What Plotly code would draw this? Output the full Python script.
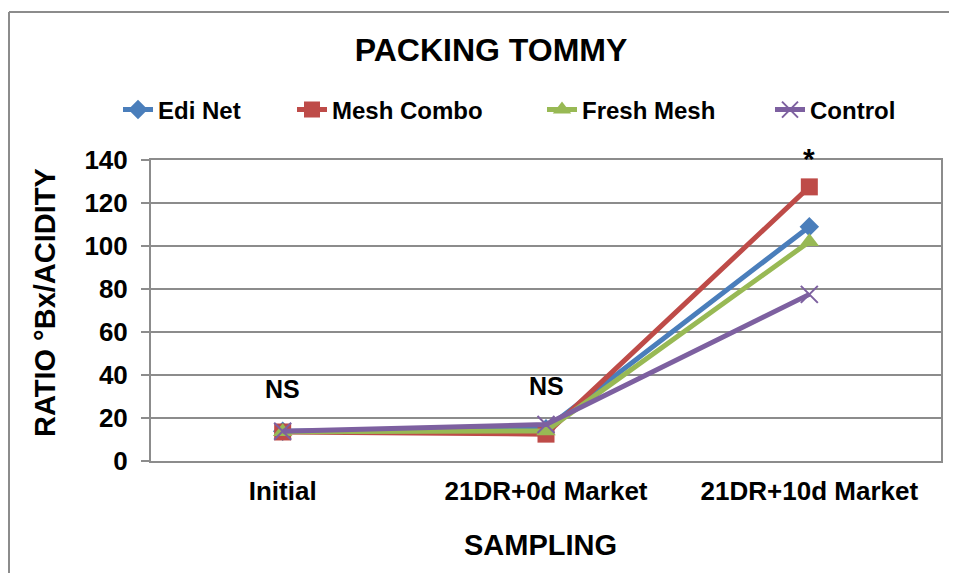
import plotly.graph_objects as go

categories = ["Initial", "21DR+0d Market", "21DR+10d Market"]
edi_net = [13.8, 15.0, 109.0]
mesh_combo = [13.5, 12.5, 127.5]
fresh_mesh = [13.6, 14.0, 102.0]
control = [13.8, 17.0, 77.5]
y_ticks = [0, 20, 40, 60, 80, 100, 120, 140]

series = [
    ("Edi Net", edi_net, "#4A7EBB", "diamond", 15),
    ("Mesh Combo", mesh_combo, "#BE4B48", "square", 17),
    ("Fresh Mesh", fresh_mesh, "#98B954", "triangle-up", 17),
    ("Control", control, "#7D60A0", "x-thin-open", 17),
]

# page offset (body margin) compensation
OX, OY = 8, 8
W, H = 957 - OX, 573 - OY
L, R, T, B = 151 - OX, W - (941 - OX), 160 - OY, H - (461 - OY)
pw, ph = W - L - R, H - T - B

def px(xp):
    return (xp - OX - L) / pw

def py(yp):
    return (H - B - (yp - OY)) / ph

FONT = "Liberation Sans, Arial, sans-serif"

fig = go.Figure()
legend_text_x = [159, 333, 583, 811]
for i, (name, vals, col, sym, sz) in enumerate(series):
    lg = "legend" if i == 0 else f"legend{i+1}"
    mk = dict(symbol=sym, size=sz, color=col)
    if sym == "x-thin-open":
        mk["line"] = dict(color=col, width=2)
    else:
        mk["line"] = dict(color=col, width=0)
    fig.add_trace(go.Scatter(
        x=categories, y=vals, name=name, mode="lines+markers",
        line=dict(color=col, width=5), marker=mk, legend=lg,
        cliponaxis=False,
    ))

legend_common = dict(
    orientation="h", yanchor="middle", xanchor="left",
    font=dict(family=FONT, size=24, color="black", weight="bold"),
    bgcolor="rgba(0,0,0,0)", borderwidth=0,
)
layout_leg = {}
for i, tx in enumerate(legend_text_x):
    key = "legend" if i == 0 else f"legend{i+1}"
    layout_leg[key] = dict(legend_common, x=px(tx - 41), y=py(110))

fig.update_layout(
    width=W, height=H,
    margin=dict(l=L, r=R, t=T, b=B, autoexpand=False),
    paper_bgcolor="white", plot_bgcolor="white",
    font=dict(family=FONT, color="black"),
    title=dict(text="PACKING TOMMY", x=px(491), xref="paper", xanchor="center",
               y=1 - (50 - OY) / H, yref="container", yanchor="middle",
               font=dict(family=FONT, size=32, color="black", weight="bold")),
    xaxis=dict(
        type="category", categoryorder="array", categoryarray=categories,
        range=[-0.5, 2.5], automargin=False,
        showline=True, linecolor="#8c8c8c", linewidth=2, mirror=True,
        showgrid=False, ticks="", ticklabelstandoff=6,
        tickfont=dict(family=FONT, size=26, color="black", weight="bold"),
    ),
    yaxis=dict(
        range=[0, 140], tickvals=y_ticks, automargin=False,
        showline=True, linecolor="#8c8c8c", linewidth=2, mirror=True,
        showgrid=True, gridcolor="#8c8c8c", gridwidth=2,
        ticks="outside", ticklen=8, tickwidth=2, tickcolor="#8c8c8c",
        ticklabelstandoff=8,
        tickfont=dict(family=FONT, size=26, color="black", weight="bold"),
        zeroline=False,
    ),
    showlegend=True,
    **layout_leg,
)

# outer chart frame: left and top edges only (the rest lies outside the view)
frame = dict(color="#8c8c8c", width=2)
fig.add_shape(type="line", xref="paper", yref="paper",
              x0=px(9), x1=px(9), y0=py(573), y1=py(12), line=frame, layer="below")
fig.add_shape(type="line", xref="paper", yref="paper",
              x0=px(9), x1=px(957), y0=py(12), y1=py(12), line=frame, layer="below")

# axis titles
fig.add_annotation(text="SAMPLING", xref="paper", yref="paper",
                   x=px(540), y=py(545), xanchor="center", yanchor="middle", showarrow=False,
                   font=dict(family=FONT, size=29, color="black", weight="bold"))
fig.add_annotation(text="RATIO °Bx/ACIDITY", xref="paper", yref="paper",
                   x=px(45), y=py(303), xanchor="center", yanchor="middle",
                   showarrow=False, textangle=-90,
                   font=dict(family=FONT, size=29, color="black", weight="bold"))

# significance labels
fig.add_annotation(text="NS", x=categories[0], y=33.5, showarrow=False,
                   font=dict(family=FONT, size=25, color="black", weight="bold"))
fig.add_annotation(text="NS", x=categories[1], y=35, showarrow=False,
                   font=dict(family=FONT, size=25, color="black", weight="bold"))
fig.add_annotation(text="*", x=categories[2], y=140, yshift=2, showarrow=False,
                   font=dict(family=FONT, size=30, color="black", weight="bold"))

fig.write_html("out.html")
